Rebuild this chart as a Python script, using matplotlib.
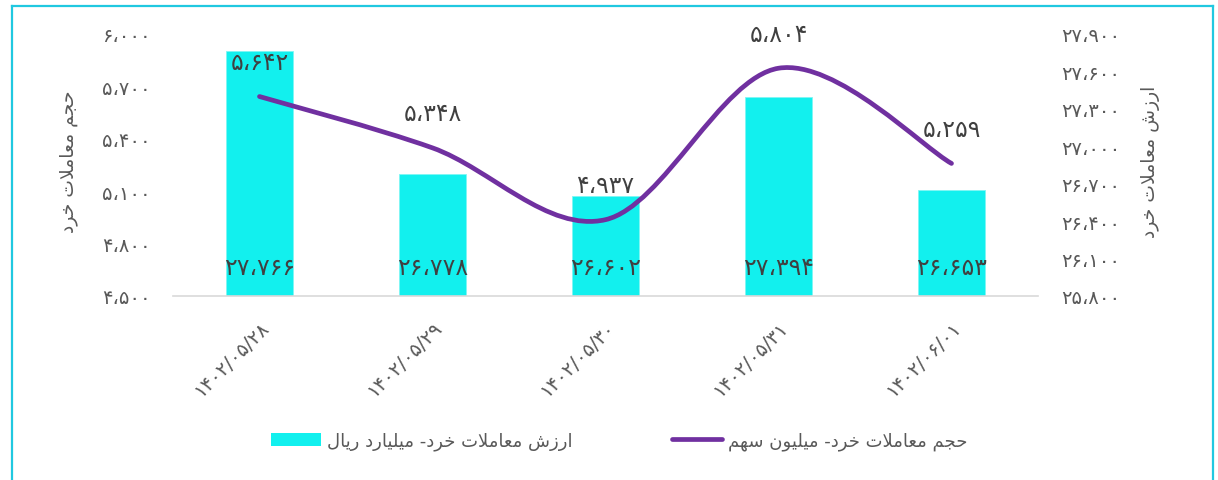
import numpy as np
import matplotlib
matplotlib.use("Agg")
import matplotlib.pyplot as plt
import matplotlib.transforms as mtransforms
from matplotlib.path import Path
from matplotlib.patches import PathPatch, Patch
from matplotlib.lines import Line2D

# data
dates = ["1402/05/28", "1402/05/29", "1402/05/30", "1402/05/31", "1402/06/01"]
value_retail = [27766, 26778, 26602, 27394, 26653]   # bars, right axis
volume_retail = [5642, 5348, 4937, 5804, 5259]       # line, left axis
left_ticks = [4500, 4800, 5100, 5400, 5700, 6000]
right_ticks = [25800, 26100, 26400, 26700, 27000, 27300, 27600, 27900]

left_title = "حجم معاملات خرد"
right_title = "ارزش معاملات خرد"
bar_name = "ارزش معاملات خرد- میلیارد ریال"
line_name = "حجم معاملات خرد- میلیون سهم"

plt.rcParams['font.family'] = ['DejaVu Sans']

# --- tiny persian shaping (matplotlib has no RTL/shaping) ---
FORMS = {
    'ا': (0xFE8D, 0xFE8E), 'د': (0xFEA9, 0xFEAA), 'ر': (0xFEAD, 0xFEAE),
    'ز': (0xFEAF, 0xFEB0), 'و': (0xFEED, 0xFEEE),
    'ت': (0xFE95, 0xFE96, 0xFE97, 0xFE98), 'ج': (0xFE9D, 0xFE9E, 0xFE9F, 0xFEA0),
    'ح': (0xFEA1, 0xFEA2, 0xFEA3, 0xFEA4), 'خ': (0xFEA5, 0xFEA6, 0xFEA7, 0xFEA8),
    'س': (0xFEB1, 0xFEB2, 0xFEB3, 0xFEB4), 'ش': (0xFEB5, 0xFEB6, 0xFEB7, 0xFEB8),
    'ع': (0xFEC9, 0xFECA, 0xFECB, 0xFECC), 'ل': (0xFEDD, 0xFEDE, 0xFEDF, 0xFEE0),
    'م': (0xFEE1, 0xFEE2, 0xFEE3, 0xFEE4), 'ن': (0xFEE5, 0xFEE6, 0xFEE7, 0xFEE8),
    'ه': (0xFEE9, 0xFEEA, 0xFEEB, 0xFEEC), 'ی': (0xFEEF, 0xFEF0, 0xFEF3, 0xFEF4),
}


def fa(text):
    out = []
    chars = list(text)
    i = 0
    while i < len(chars):
        c = chars[i]
        if c not in FORMS:
            out.append(c)
            i += 1
            continue
        prev = chars[i - 1] if i > 0 else ''
        join_prev = prev in FORMS and len(FORMS[prev]) == 4
        if c == 'ل' and i + 1 < len(chars) and chars[i + 1] == 'ا':
            out.append(chr(0xFEFC if join_prev else 0xFEFB))
            i += 2
            continue
        nxt = chars[i + 1] if i + 1 < len(chars) else ''
        f = FORMS[c]
        join_next = len(f) == 4 and nxt in FORMS
        if join_prev and join_next:
            out.append(chr(f[3]))
        elif join_next:
            out.append(chr(f[2]))
        elif join_prev:
            out.append(chr(f[1]))
        else:
            out.append(chr(f[0]))
        i += 1
    return ''.join(out[::-1])


def fa_num(s):
    return str(s).translate(str.maketrans('0123456789,', '۰۱۲۳۴۵۶۷۸۹،'))


def fmt(v):
    return fa_num(f"{int(v):,}")


cyan = '#12F0EE'
purple = '#7030A0'
tick_col = '#595959'
lab_col = '#404040'

fig = plt.figure(figsize=(12.18, 4.81), dpi=100)
ax = fig.add_axes([173 / 1218, 1 - 297 / 481, (1038 - 173) / 1218, (297 - 35) / 481])
ax2 = ax.twinx()
ax.set_zorder(ax2.get_zorder() + 1)
ax.patch.set_visible(False)

x = np.arange(len(dates))
bars = ax2.bar(x, value_retail, width=0.39, color=cyan, edgecolor='#7FF6F4', linewidth=0.6)
ax2.set_ylim(right_ticks[0], right_ticks[-1])
ax2.set_yticks(right_ticks)
ax2.set_yticklabels([fmt(v) for v in right_ticks])

# smoothed line (bezier through the points)
pts = np.column_stack([x, volume_retail]).astype(float)
verts = [tuple(pts[0])]
codes = [Path.MOVETO]
for i in range(len(pts) - 1):
    p0 = pts[max(i - 1, 0)]
    p1 = pts[i]
    p2 = pts[i + 1]
    p3 = pts[min(i + 2, len(pts) - 1)]
    c1 = p1 + (p2 - p0) / 6
    c2 = p2 - (p3 - p1) / 6
    verts += [tuple(c1), tuple(c2), tuple(p2)]
    codes += [Path.CURVE4] * 3
ax.add_patch(PathPatch(Path(verts, codes), facecolor='none', edgecolor=purple,
                       lw=3.4, capstyle='round', joinstyle='round'))
ax.set_ylim(left_ticks[0], left_ticks[-1])
ax.set_yticks(left_ticks)
ax.set_yticklabels([fmt(v) for v in left_ticks])
ax.set_xlim(-0.5, len(dates) - 0.5)
ax.set_xticks(x)
ax.set_xticklabels([fa_num(d) for d in dates], rotation=45, ha='right', va='top',
                   rotation_mode='anchor')
shift = mtransforms.ScaledTranslation(-4 / 100, 0, fig.dpi_scale_trans)
for lab in ax.get_xticklabels():
    lab.set_transform(lab.get_transform() + shift)

for a in (ax, ax2):
    for s in a.spines.values():
        s.set_visible(False)
ax.spines['bottom'].set_visible(True)
ax.spines['bottom'].set_color('#D9D9D9')
ax.spines['bottom'].set_linewidth(1.2)

ax.tick_params(axis='y', length=0, pad=16, labelsize=14, labelcolor=tick_col)
ax2.tick_params(axis='y', length=0, pad=17, labelsize=14, labelcolor=tick_col)
ax.tick_params(axis='x', length=0, pad=15, labelsize=14, labelcolor=tick_col)

for i, v in enumerate(volume_retail):
    ax.annotate(fmt(v), (i, v), xytext=(0, 25), textcoords='offset points',
                ha='center', va='center', fontsize=17, color=lab_col)
for i, v in enumerate(value_retail):
    ax2.annotate(fmt(v), (i, right_ticks[0]), xytext=(0, 21), textcoords='offset points',
                 ha='center', va='center', fontsize=17, color=lab_col)

fig.text(68 / 1218, 1 - 162 / 481, fa(left_title), rotation=90, ha='center', va='center',
         fontsize=13.5, color=tick_col)
fig.text(1150 / 1218, 1 - 162 / 481, fa(right_title), rotation=90, ha='center', va='center',
         fontsize=13.5, color=tick_col)

handles = [Patch(facecolor=cyan, edgecolor='none'),
           Line2D([0], [0], color=purple, lw=3.4, solid_capstyle='round')]
fig.legend(handles, [fa(bar_name), fa(line_name)], loc='center', ncol=2,
           bbox_to_anchor=(619 / 1218, 1 - 442 / 481), frameon=False, fontsize=13,
           labelcolor=tick_col, handlelength=2.8, handleheight=0.8, handletextpad=0.3,
           columnspacing=5.5)

# outer frame
fc = '#20C8E0'
fig.add_artist(Line2D([12 / 1218, 12 / 1218], [0, 1 - 7 / 481], color=fc, lw=1.6))
fig.add_artist(Line2D([12 / 1218, 1213 / 1218], [1 - 7 / 481, 1 - 7 / 481], color=fc, lw=1.6))
fig.add_artist(Line2D([1213 / 1218, 1213 / 1218], [0, 1 - 7 / 481], color=fc, lw=1.6))

fig.savefig('out.png', dpi=100, facecolor='white')
